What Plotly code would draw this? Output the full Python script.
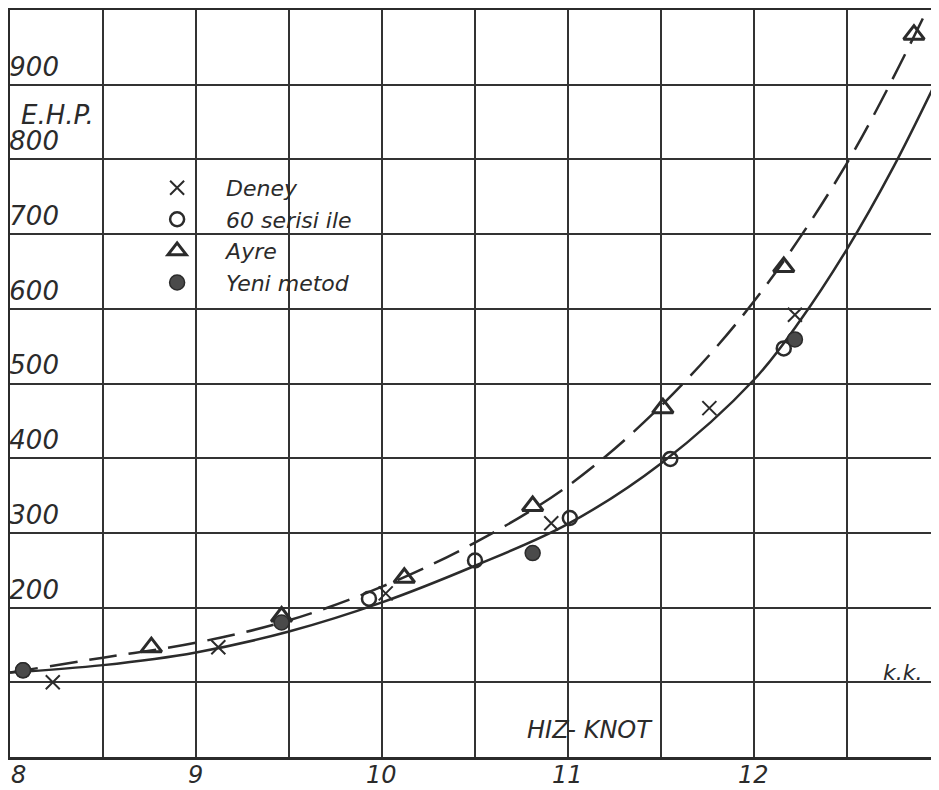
import plotly.graph_objects as go

# ---- data ----
deney_x = [8.23, 9.12, 10.02, 10.91, 11.76, 12.22]
deney_y = [100, 147, 219, 313, 467, 592]

seri60_x = [8.07, 9.93, 10.50, 11.01, 11.55, 12.16]
seri60_y = [116, 212, 263, 320, 399, 547]

ayre_x = [8.76, 9.46, 10.12, 10.81, 11.51, 12.16, 12.86]
ayre_y = [147, 188, 240, 336, 467, 656, 967]

yeni_x = [8.07, 9.46, 10.81, 12.22]
yeni_y = [116, 180, 273, 559]

solid_x = [8.0, 8.5, 9.0, 9.5, 10.0, 10.5, 11.0, 11.5, 12.0, 12.25, 12.5, 12.75, 13.0]
solid_y = [113, 123, 140, 168, 207, 256, 312, 393, 505, 585, 680, 790, 915]

dash_x = [8.0, 8.5, 9.0, 9.5, 10.0, 10.5, 11.0, 11.5, 12.0, 12.5, 12.93]
dash_y = [113, 133, 153, 183, 228, 287, 363, 470, 610, 795, 1000]

x_tickvals = [8, 8.5, 9, 9.5, 10, 10.5, 11, 11.5, 12, 12.5, 13]
x_label_vals = [8, 9, 10, 11, 12]
x_label_text = ["8", "9", "10", "11", "12"]
y_tickvals = [0, 100, 200, 300, 400, 500, 600, 700, 800, 900, 1000]
y_ticktext = ["", "", "200", "300", "400", "500", "600", "700", "800", "900", ""]

INK = "#2b2b2b"
FONT = "DejaVu Sans"

fig = go.Figure()

fig.add_trace(go.Scatter(x=solid_x, y=solid_y, mode="lines", showlegend=False,
                         line=dict(color=INK, width=2.5, shape="spline", smoothing=1.0),
                         hoverinfo="skip"))
fig.add_trace(go.Scatter(x=dash_x, y=dash_y, mode="lines", showlegend=False,
                         line=dict(color=INK, width=2.5, shape="spline", smoothing=1.0,
                                   dash="28px,12px"),
                         hoverinfo="skip"))

fig.add_trace(go.Scatter(x=deney_x, y=deney_y, mode="markers", name="Deney",
                         marker=dict(symbol="x-thin-open", size=14, color=INK,
                                     line=dict(color=INK, width=2))))
fig.add_trace(go.Scatter(x=seri60_x, y=seri60_y, mode="markers", name="60 serisi ile",
                         marker=dict(symbol="circle-open", size=14, color=INK,
                                     line=dict(color=INK, width=2.5))))
fig.add_trace(go.Scatter(x=ayre_x, y=ayre_y, mode="markers", name="Ayre",
                         marker=dict(symbol="triangle-up-open", size=18, color=INK,
                                     line=dict(color=INK, width=3))))
fig.add_trace(go.Scatter(x=yeni_x, y=yeni_y, mode="markers", name="Yeni metod",
                         marker=dict(symbol="circle", size=15, color="#4a4a4a",
                                     line=dict(color=INK, width=1.5))))

annotations = [
    dict(x=8.05, y=860, xref="x", yref="y", text="E.H.P.", showarrow=False,
         xanchor="left", yanchor="middle",
         font=dict(size=26, family=FONT, color=INK, style="italic")),
    dict(x=11.12, y=36, xref="x", yref="y", text="HIZ- KNOT", showarrow=False,
         xanchor="center", yanchor="middle",
         font=dict(size=24, family=FONT, color=INK, style="italic")),
    dict(x=12.80, y=113, xref="x", yref="y", text="k.k.", showarrow=False,
         xanchor="center", yanchor="middle",
         font=dict(size=22, family=FONT, color=INK, style="italic")),
]
for xv, tx in zip(x_label_vals, x_label_text):
    annotations.append(dict(x=xv, y=0, xref="x", yref="paper", text=tx,
                            showarrow=False, xanchor="center", yanchor="top",
                            xshift=8 if xv == 8 else -1, yshift=-2,
                            font=dict(size=24, family=FONT, color=INK, style="italic")))

fig.update_layout(
    width=939, height=790,
    margin=dict(l=2, r=7, t=2, b=41, pad=0, autoexpand=False),
    paper_bgcolor="white", plot_bgcolor="white",
    font=dict(family=FONT, color=INK, style="italic"),
    legend=dict(x=0.127, y=0.79, xanchor="left", yanchor="top",
                bgcolor="rgba(0,0,0,0)", borderwidth=0,
                font=dict(size=22, family=FONT, color=INK, style="italic"),
                itemwidth=88, tracegroupgap=0),
    xaxis=dict(range=[8, 13], tickvals=x_tickvals, showticklabels=False,
               showgrid=True, gridcolor="#333333", gridwidth=2,
               showline=True, linecolor=INK, linewidth=3, mirror=True,
               zeroline=False, ticks="", automargin=False),
    yaxis=dict(range=[0, 1000], tickvals=y_tickvals, ticktext=y_ticktext,
               showgrid=True, gridcolor="#333333", gridwidth=2,
               showline=True, linecolor=INK, linewidth=3, mirror=True,
               zeroline=False, ticks="", ticklabelposition="inside top",
               automargin=False,
               tickfont=dict(size=26, family=FONT, color=INK, style="italic")),
    annotations=annotations,
)

fig.write_html("out.html")
